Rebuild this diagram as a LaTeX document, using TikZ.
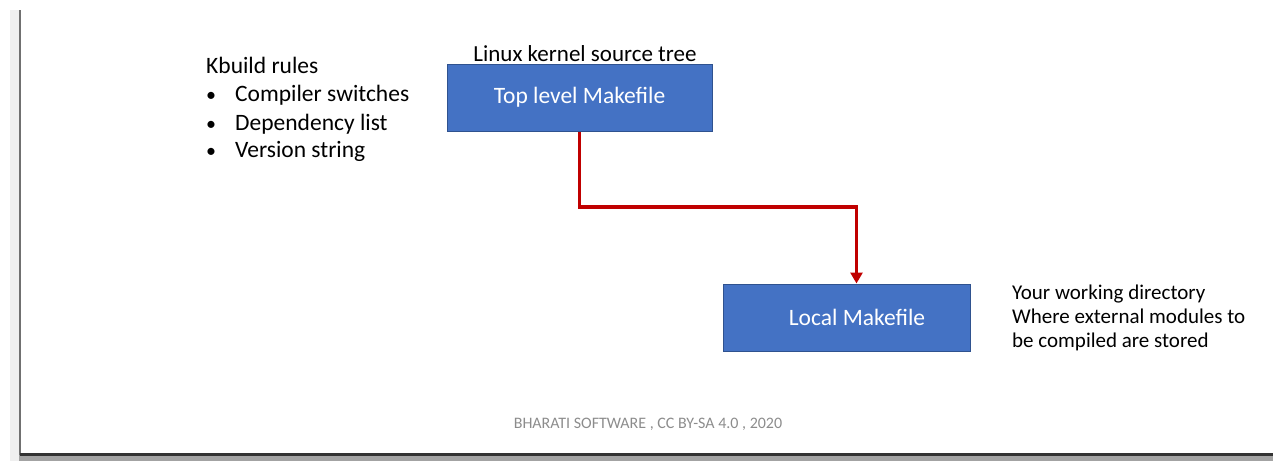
\documentclass[tikz,border=0pt]{standalone}
\usepackage{fontspec}
\setmainfont{Carlito}
\usetikzlibrary{arrows.meta}
\definecolor{boxblue}{HTML}{4472C4}
\definecolor{boxedge}{HTML}{2F528F}
\definecolor{arrred}{HTML}{C00000}
\definecolor{foot}{HTML}{8C8C8C}
\definecolor{stripgray}{HTML}{EFEFEF}
\definecolor{edgegray}{HTML}{707070}
\definecolor{bandgray}{HTML}{A3A3A3}
\definecolor{darkline}{HTML}{333333}
\tikzset{
  bluebox/.style={draw=boxedge, line width=1pt, fill=boxblue, text=white, font=\fontsize{23.5}{28}\selectfont, inner sep=0pt},
  plain/.style={inner sep=0pt, font=\fontsize{23.5}{28}\selectfont, anchor=base west},
  side/.style={inner sep=0pt, font=\fontsize{21}{25}\selectfont, anchor=base west},
  redarrow/.style={draw=arrred, line width=3.6pt, -{Triangle[width=12pt,length=11pt]}},
}
\begin{document}
\begin{tikzpicture}[x=1pt,y=-1pt]
\useasboundingbox (0,0) rectangle (1283,471);
% slide frame
\fill[stripgray] (10,10) rectangle (18.5,461);
\fill[bandgray] (18.5,455) rectangle (1273,461);
\fill[edgegray] (18.5,10) rectangle (21,455);
\fill[darkline] (20,453) rectangle (1273,455.5);
% boxes
\node[bluebox, minimum width=265pt, minimum height=67pt] (top) at (579.5,97.5) {Top level Makefile};
\node[bluebox, minimum width=247pt, minimum height=67pt] (local) at (846.5,317.5) {\hspace*{21pt}Local Makefile};
\node[inner sep=0pt, font=\fontsize{23}{28}\selectfont, anchor=base] (tree) at (585,61.7) {Linux kernel source tree};
% left list
\node[plain] (kb) at (206,73.3) {Kbuild rules};
\node[plain, font=\fontsize{20}{24}\selectfont] (b1) at (206,101.7) {•};
\node[plain] (l1) at (235,101.7) {Compiler switches};
\node[plain, font=\fontsize{20}{24}\selectfont] (b2) at (206,130) {•};
\node[plain] (l2) at (235,130) {Dependency list};
\node[plain, font=\fontsize{20}{24}\selectfont] (b3) at (206,157.5) {•};
\node[plain] (l3) at (235,157.5) {Version string};
% right text
\node[side] (r1) at (1012,299) {Your working directory};
\node[side] (r2) at (1012,323.3) {Where external modules to};
\node[side] (r3) at (1012,347) {be compiled are stored};
% footer
\node[inner sep=0pt, font=\fontsize{16}{19}\selectfont, text=foot, anchor=base] (ft) at (648,428) {BHARATI SOFTWARE , CC BY-SA 4.0 , 2020};
% connector
\coordinate (bend) at (856.5,207);
\draw[redarrow] (top.south) |- (bend) -- (bend |- local.north);
\end{tikzpicture}
\end{document}
